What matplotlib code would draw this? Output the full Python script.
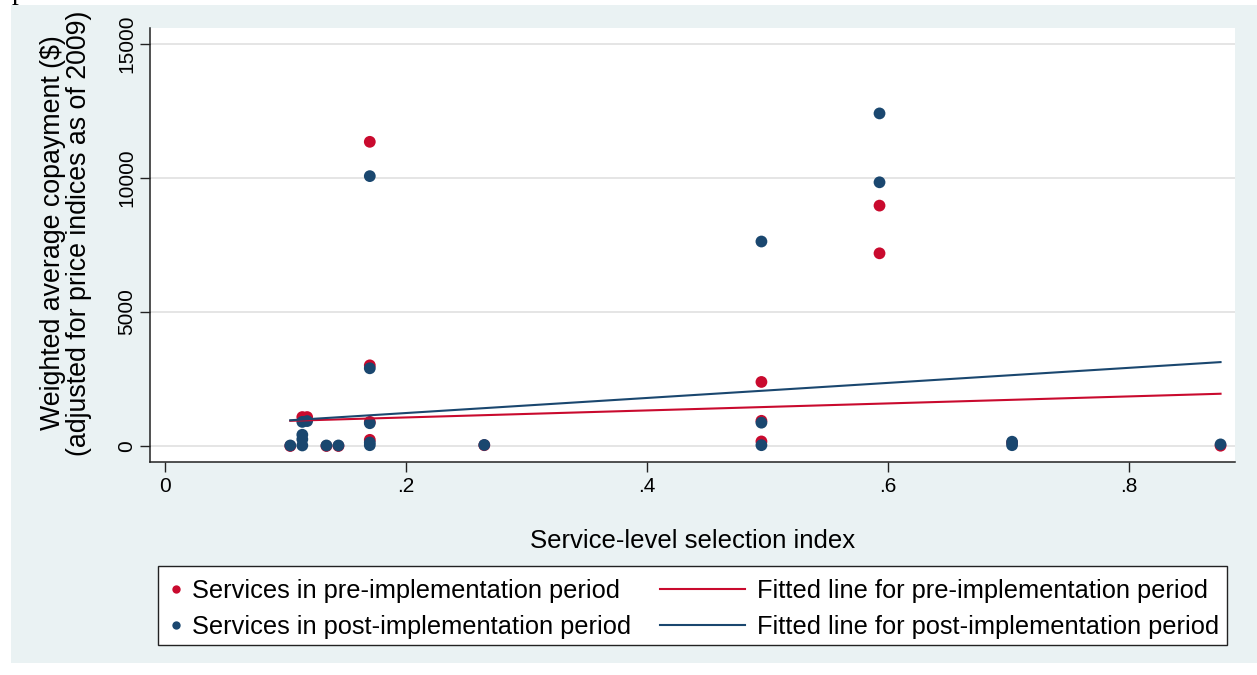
import matplotlib
matplotlib.use("Agg")
import matplotlib.pyplot as plt
from matplotlib.lines import Line2D
from matplotlib.patches import Rectangle

plt.rcParams['font.family'] = ['Liberation Sans', 'DejaVu Sans']

# Services observed before implementation (selection index, copayment in 2009 $)
pre_index = [0.104, 0.114, 0.118, 0.134, 0.144, 0.170, 0.170, 0.170, 0.170,
             0.265, 0.495, 0.495, 0.495, 0.593, 0.593, 0.703, 0.876]
pre_copay = [0, 1080, 1080, 0, 0, 11350, 3010, 900, 230,
             30, 2390, 940, 170, 8970, 7190, 120, 10]

# Services observed after implementation
post_index = [0.104, 0.114, 0.114, 0.114, 0.114, 0.118, 0.134, 0.144,
              0.170, 0.170, 0.170, 0.170, 0.170, 0.265, 0.495, 0.495, 0.495,
              0.593, 0.593, 0.703, 0.703, 0.876]
post_copay = [20, 20, 250, 420, 900, 930, 20, 20,
              10070, 2900, 850, 130, 30, 40, 7630, 870, 30,
              12410, 9840, 160, 30, 60]

# Linear fits: [intercept, slope]
fit_pre = [804, 1308]
fit_post = [668, 2811]

x_ticks = [0, 0.2, 0.4, 0.6, 0.8]
x_tick_labels = ['0', '.2', '.4', '.6', '.8']
y_ticks = [0, 5000, 10000, 15000]
y_tick_labels = ['0', '5000', '10000', '15000']

RED = '#c90a2e'
NAVY = '#1a476f'
BG = '#eaf2f3'

W, H = 1257, 675
fig = plt.figure(figsize=(W / 100, H / 100), dpi=100)
fig.patch.set_facecolor('white')

# outer graph region
fig.patches.append(Rectangle((11 / W, 1 - 663 / H), (W - 11) / W, (663 - 5) / H,
                             transform=fig.transFigure, facecolor=BG,
                             edgecolor='none', zorder=-5))
fig.text(12 / W, 1 + 1.5 / H, 'p', family='Liberation Serif', fontsize=20,
         va='baseline', ha='left', color='black')

ax = fig.add_axes([150 / W, 1 - 462 / H, (1235 - 150) / W, (462 - 28) / H])
ax.set_zorder(2)
ax.set_facecolor('white')
ax.set_xlim(-0.0124, 0.888)
ax.set_ylim(-597, 15597)

ax.grid(axis='y', color='#e5e5e5', linewidth=1.4, zorder=0)
ax.set_axisbelow(True)

ax.scatter(pre_index, pre_copay, s=72, color=RED, edgecolors='none', zorder=2)
ax.scatter(post_index, post_copay, s=72, color=NAVY, edgecolors='none', zorder=3)

lo = min(pre_index + post_index)
hi = max(pre_index + post_index)
ax.plot([lo, hi], [fit_pre[0] + fit_pre[1] * lo, fit_pre[0] + fit_pre[1] * hi],
        color=RED, lw=1.5, zorder=4)
ax.plot([lo, hi], [fit_post[0] + fit_post[1] * lo, fit_post[0] + fit_post[1] * hi],
        color=NAVY, lw=1.5, zorder=5)

for side in ('top', 'right'):
    ax.spines[side].set_visible(False)
for side in ('left', 'bottom'):
    ax.spines[side].set_color('#222222')
    ax.spines[side].set_linewidth(1.1)

ax.set_xticks(x_ticks)
ax.set_xticklabels(x_tick_labels, fontsize=15)
ax.set_yticks(y_ticks)
ax.set_yticklabels(y_tick_labels, fontsize=15, rotation=90, va='center')
ax.tick_params(axis='x', length=7, width=1, color='#222222', pad=4)
ax.tick_params(axis='y', length=7, width=1, color='#222222', pad=3)

fig.text(693 / W, 1 - 541 / H, 'Service-level selection index',
         fontsize=18.5, ha='center', va='center')
fig.text(66 / W, 1 - 233 / H,
         'Weighted average copayment ($)\n(adjusted for price indices as of 2009)',
         fontsize=19.3, rotation=90, ha='center', va='center',
         multialignment='center', linespacing=1.0)

# legend box and entries
fig.patches.append(Rectangle((158 / W, 1 - 645 / H), (1227 - 158) / W, (645 - 566) / H,
                             transform=fig.transFigure, facecolor='white',
                             edgecolor='#222222', linewidth=1.0, zorder=1))

dot_handles = [Line2D([], [], ls='none', marker='o', ms=6, color=RED, mec='none'),
               Line2D([], [], ls='none', marker='o', ms=6, color=NAVY, mec='none')]
line_handles = [Line2D([], [], color=RED, lw=1.5),
                Line2D([], [], color=NAVY, lw=1.5)]

leg1 = fig.legend(dot_handles,
                  ['Services in pre-implementation period',
                   'Services in post-implementation period'],
                  loc='center left', bbox_to_anchor=(169.6 / W, 1 - 609 / H),
                  frameon=False, fontsize=18.3, borderpad=0, handlelength=0.5,
                  handletextpad=0.38, labelspacing=0.48, borderaxespad=0)
leg2 = fig.legend(line_handles,
                  ['Fitted line for pre-implementation period',
                   'Fitted line for post-implementation period'],
                  loc='center left', bbox_to_anchor=(660 / W, 1 - 609 / H),
                  frameon=False, fontsize=18.3, borderpad=0, handlelength=3.33,
                  handletextpad=0.47, labelspacing=0.48, borderaxespad=0)
leg1.set_zorder(3)
leg2.set_zorder(3)

fig.savefig('out.png', dpi=100, facecolor=fig.get_facecolor())
